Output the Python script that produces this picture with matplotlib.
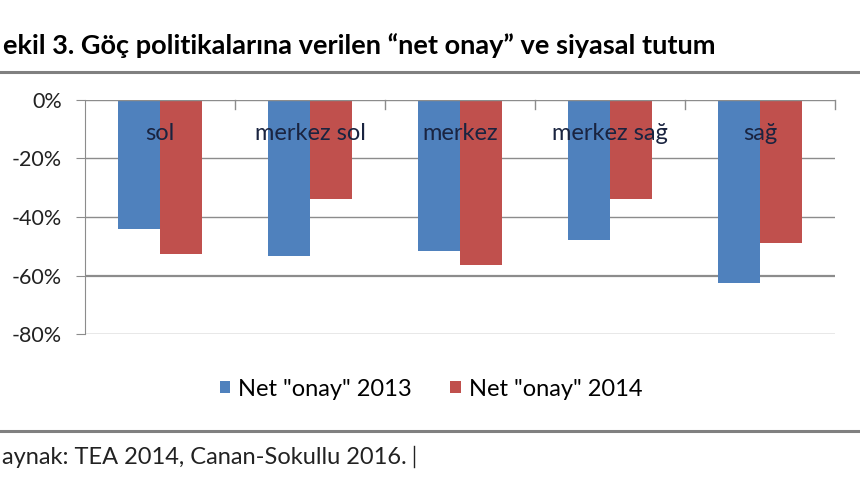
import matplotlib.pyplot as plt
import numpy as np
from matplotlib.lines import Line2D
from matplotlib.ticker import FuncFormatter

plt.rcParams['font.family'] = ['Lato', 'DejaVu Sans']

# values (percent)
categories = ['sol', 'merkez sol', 'merkez', 'merkez sağ', 'sağ']
onay_2013 = [-44, -53.5, -51.5, -48, -62.5]
onay_2014 = [-52.5, -34, -56.5, -34, -49]
series_names = ['Net "onay" 2013', 'Net "onay" 2014']
yticks = [0, -20, -40, -60, -80]

blue = '#4F81BD'
red = '#C0504D'
grid = '#8C8C8C'

fig = plt.figure(figsize=(8.6, 4.8), dpi=100)
ax = fig.add_axes([85/860, 1 - 334/480, 750/860, 234/480])

x = np.arange(len(categories))
w = 0.28
ax.bar(x - w/2, onay_2013, w, color=blue, label=series_names[0], zorder=3)
ax.bar(x + w/2, onay_2014, w, color=red, label=series_names[1], zorder=3)

ax.set_xlim(-0.5, len(categories) - 0.5)
ax.set_ylim(-80, 0)
ax.set_yticks(yticks)
ax.yaxis.set_major_formatter(FuncFormatter(lambda v, p: '%d%%' % v))
ax.tick_params(axis='y', length=6.5, color=grid, labelsize=15.5, pad=10, labelcolor='#222222')

for yv in yticks[1:]:
    ax.axhline(yv, color=grid, lw=1.0 if yv != -60 else 1.6, zorder=1)
ax.axhline(0, color=grid, lw=1.0, zorder=4)

# category separators on the zero line
ax.set_xticks([])
for b in np.arange(0.5, len(categories), 1.0):
    ax.plot([b, b], [0, -3], color=grid, lw=1, zorder=4, clip_on=False)

for s in ['top', 'right', 'bottom']:
    ax.spines[s].set_visible(False)
ax.spines['left'].set_color(grid)

for i, c in enumerate(categories):
    ax.text(i, -11.3, c, ha='center', va='center', fontsize=17,
            color='#1A2440', zorder=5)

fig.text(3/860, 1 - 46/480, 'ekil 3. Göç politikalarına verilen “net onay” ve siyasal tutum',
         fontsize=19.5, fontweight='bold', va='center', ha='left')

fig.add_artist(Line2D([0, 1], [1 - 72/480, 1 - 72/480], color='#808080', lw=2.2))
fig.add_artist(Line2D([0, 1], [1 - 431/480, 1 - 431/480], color='#808080', lw=2.2))

fig.legend(loc='center', bbox_to_anchor=(431/860, 1 - 389/480), ncol=2, frameon=False,
           fontsize=17, handlelength=0.45, handleheight=0.45, handletextpad=0.35,
           columnspacing=1.6)

fig.text(2/860, 1 - 457/480, 'aynak: TEA 2014, Canan-Sokullu 2016.', fontsize=17,
         va='center', ha='left', color='#222222')
fig.add_artist(Line2D([414/860, 414/860], [1 - 467/480, 1 - 446/480], color='#222222', lw=1))

plt.savefig('out.png', dpi=100)
